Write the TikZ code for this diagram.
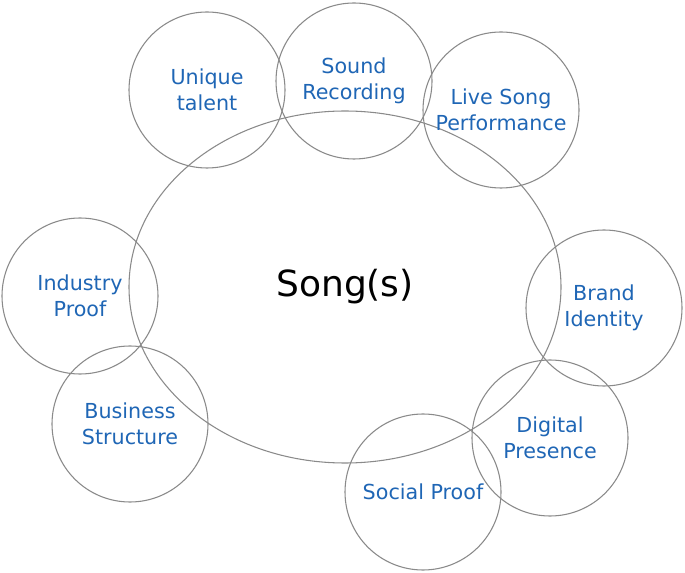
\documentclass[tikz,border=0pt]{standalone}
\usepackage{fontspec}
\setmainfont{DejaVu Sans}
\usetikzlibrary{shapes.geometric}
\definecolor{RingGray}{HTML}{8A8A8A}
\definecolor{TopicBlue}{HTML}{1F66B5}
\tikzset{
  songoval/.style={draw=RingGray, line width=0.8pt, ellipse, minimum width=324pt, minimum height=264pt, inner sep=0pt, font=\fontsize{27}{32}\selectfont},
  topic/.style={draw=RingGray, line width=0.8pt, circle, minimum size=117pt, inner sep=0pt, align=center, text=TopicBlue, font=\fontsize{15.5}{19.5}\selectfont}
}

\begin{document}
\begin{tikzpicture}[x=0.75pt, y=-0.75pt]
\useasboundingbox (0,0) rectangle (685,573);
\node[songoval] (song) at (345,287) {Song(s)};
\node[topic] (talent) at (207,90) {Unique\\talent};
\node[topic] (recording) at (354,81) {Sound\\Recording};
\node[topic] (live) at (501,110) {Live Song\\Performance};
\node[topic] (brand) at (604,308) {Brand\\Identity};
\node[topic] (digital) at (550,438) {Digital\\Presence};
\node[topic] (social) at (423,492) {Social Proof};
\node[topic] (business) at (130,424) {Business\\Structure};
\node[topic] (industry) at (80,296) {Industry\\Proof};
\end{tikzpicture}
\end{document}
